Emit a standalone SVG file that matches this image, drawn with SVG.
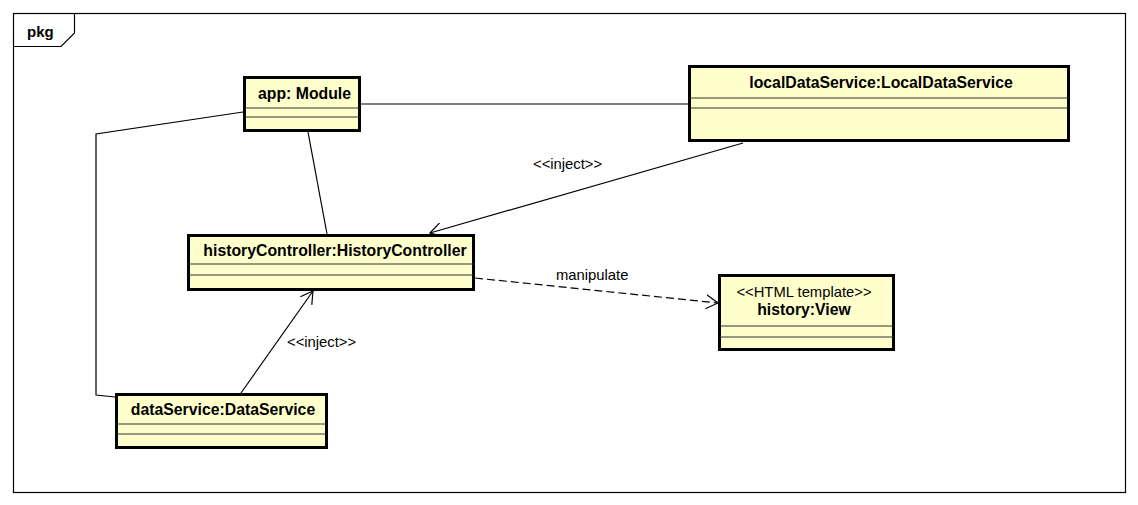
<svg xmlns="http://www.w3.org/2000/svg" width="1138" height="505" viewBox="0 0 1138 505">
<style>
.box{fill:#FFFFCC;stroke:#000;stroke-width:3}
.div{stroke:#333;stroke-width:1}
.name{font-family:"Liberation Sans",Arial,sans-serif;font-size:15.8px;font-weight:bold;fill:#000;text-anchor:middle}
.lbl{font-family:"Liberation Sans",Arial,sans-serif;font-size:14.8px;fill:#000}
.ln{stroke:#000;stroke-width:1.2;fill:none}
</style>
<defs>
<marker id="open" markerUnits="userSpaceOnUse" markerWidth="14" markerHeight="16" refX="12" refY="7" orient="auto" viewBox="0 0 14 14">
<path d="M0,0 L12,7 L0,14" fill="none" stroke="#000" stroke-width="1.2"/>
</marker>
</defs>
<rect width="1138" height="505" fill="#fff"/>
<g id="frame">
<rect x="13.5" y="13.5" width="1112" height="479" fill="none" stroke="#000" stroke-width="1.2"/>
<path d="M13.5,46.5 H61 L74.5,33 V13.5" fill="none" stroke="#000" stroke-width="1.2"/>
<text x="27" y="37" class="lbl" style="font-weight:bold;font-size:15px">pkg</text>
</g>
<g id="connectors">
<line class="ln" x1="361" y1="104" x2="688" y2="104"/>
<polyline class="ln" points="243,112 96,134 96,395 115,397"/>
<line class="ln" x1="308" y1="132" x2="327" y2="234"/>
<line class="ln" x1="743" y1="143" x2="430" y2="233" marker-end="url(#open)"/>
<line class="ln" x1="241" y1="393" x2="313" y2="291" marker-end="url(#open)"/>
<line class="ln" x1="475" y1="278" x2="718" y2="303" stroke-dasharray="8,4" marker-end="url(#open)"/>
<text class="lbl" x="533" y="169">&lt;&lt;inject&gt;&gt;</text>
<text class="lbl" x="287" y="347">&lt;&lt;inject&gt;&gt;</text>
<text class="lbl" x="556" y="280">manipulate</text>
</g>
<g id="app">
<rect class="box" x="244.5" y="77.5" width="115" height="53"/>
<line class="div" x1="244.5" y1="108" x2="359.5" y2="108"/>
<line class="div" x1="244.5" y1="117" x2="359.5" y2="117"/>
<text class="name" x="304.5" y="99">app: Module</text>
</g>
<g id="localDataService">
<rect class="box" x="689.5" y="66.5" width="379" height="74"/>
<line class="div" x1="689.5" y1="98" x2="1068.5" y2="98"/>
<line class="div" x1="689.5" y1="108" x2="1068.5" y2="108"/>
<text class="name" x="881" y="88">localDataService:LocalDataService</text>
</g>
<g id="historyController">
<rect class="box" x="188.5" y="235.5" width="285" height="54"/>
<line class="div" x1="188.5" y1="264" x2="473.5" y2="264"/>
<line class="div" x1="188.5" y1="275" x2="473.5" y2="275"/>
<text class="name" x="335" y="256">historyController:HistoryController</text>
</g>
<g id="historyView">
<rect class="box" x="719.5" y="275.5" width="174" height="74"/>
<line class="div" x1="719.5" y1="326" x2="893.5" y2="326"/>
<line class="div" x1="719.5" y1="337" x2="893.5" y2="337"/>
<text class="lbl" x="804" y="297" text-anchor="middle">&lt;&lt;HTML template&gt;&gt;</text>
<text class="name" x="804" y="315">history:View</text>
</g>
<g id="dataService">
<rect class="box" x="116.5" y="394.5" width="210" height="53"/>
<line class="div" x1="116.5" y1="424" x2="326.5" y2="424"/>
<line class="div" x1="116.5" y1="434" x2="326.5" y2="434"/>
<text class="name" x="223" y="415">dataService:DataService</text>
</g>
</svg>
